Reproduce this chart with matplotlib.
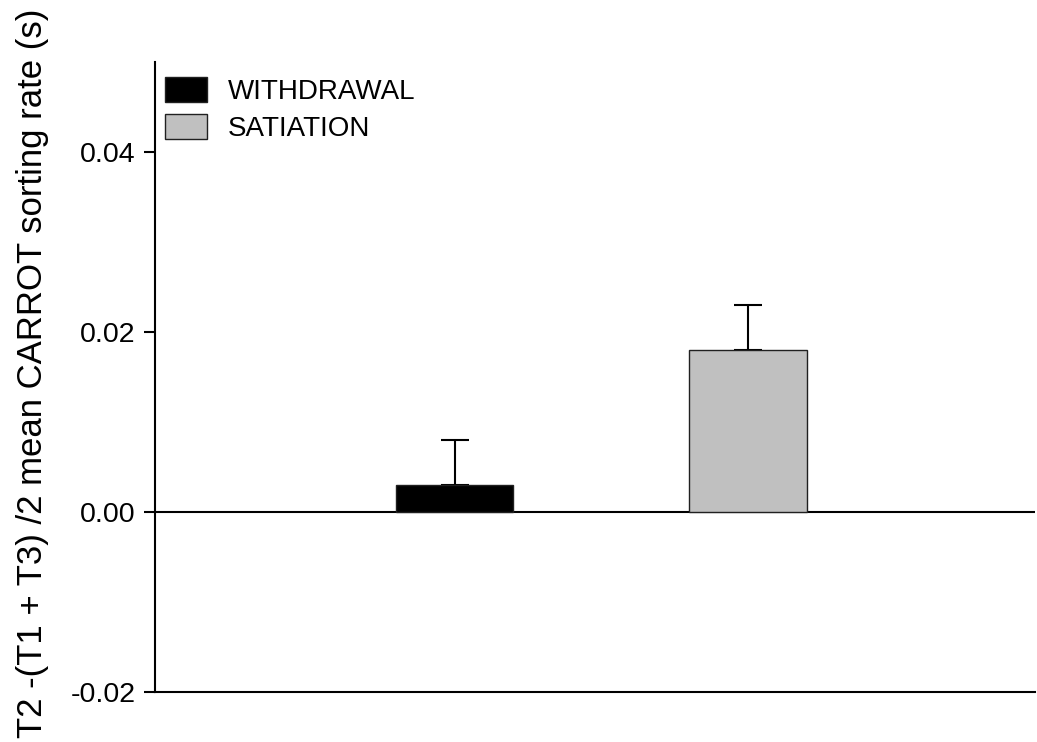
import matplotlib.pyplot as plt
from matplotlib.patches import Patch

plt.rcParams['font.family'] = ['Liberation Sans', 'DejaVu Sans']

groups = ['WITHDRAWAL', 'SATIATION']
means = [0.003, 0.018]
sem = [0.005, 0.005]
colors = ['black', '#c0c0c0']
positions = [1, 2]

W, H = 1037, 742
fig = plt.figure(figsize=(W / 100, H / 100), dpi=100)
ax = fig.add_axes([0.1495, 0.0674, 0.849, 0.849])

# error bars sit behind the bars so only the upper whisker shows
ax.bar(positions, means, width=0.4, color=colors, edgecolor='#202020', linewidth=1.0, zorder=3)
ax.errorbar(positions, means, yerr=[[0, 0], sem], fmt='none', ecolor='black',
            elinewidth=1.5, capsize=10, capthick=1.5, zorder=2)
ax.axhline(0, color='black', linewidth=1.5, zorder=1)

ax.set_xlim(-0.022, 2.98)
ax.set_ylim(-0.02, 0.05)
ax.set_yticks([-0.02, 0.0, 0.02, 0.04])
ax.set_yticklabels(['-0.02', '0.00', '0.02', '0.04'])
ax.set_xticks([])
ax.tick_params(axis='y', direction='out', length=8, width=1.5, labelsize=20.5, pad=6)
for side in ['top', 'right']:
    ax.spines[side].set_visible(False)
for side in ['left', 'bottom']:
    ax.spines[side].set_linewidth(1.5)

# long label: placed by hand so it runs the full figure height
ax.set_ylabel('T2 -(T1 + T3) /2 mean CARROT sorting rate (s)', fontsize=25)
ax.yaxis.set_label_coords(-0.121, 0.506)

handles = [Patch(facecolor=c, edgecolor='#202020', label=g) for g, c in zip(groups, colors)]
ax.legend(handles=handles, loc='upper left', bbox_to_anchor=(165 / W, 1 - 77 / H),
          bbox_transform=fig.transFigure, frameon=False, borderpad=0, borderaxespad=0,
          fontsize=20, handlelength=1.5, handleheight=1.0, handletextpad=0.75,
          labelspacing=0.33)

fig.savefig('out.png', dpi=100)
